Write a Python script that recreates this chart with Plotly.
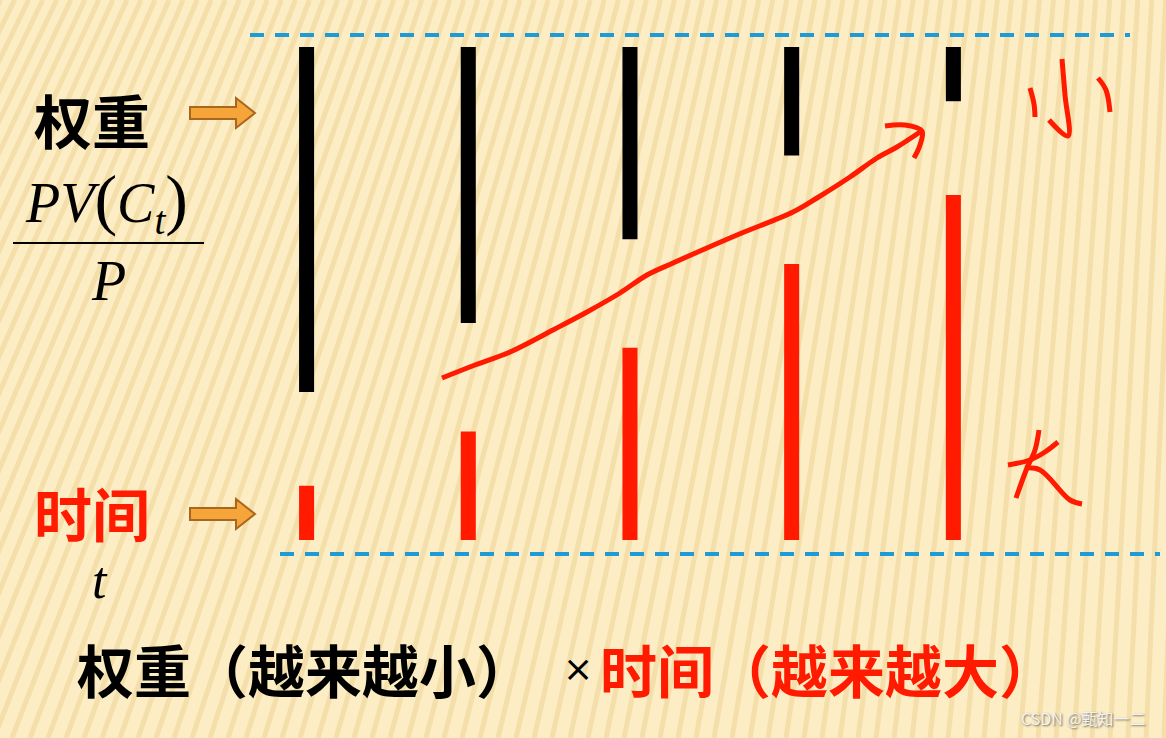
import plotly.graph_objects as go

# values
periods = [1, 2, 3, 4, 5]
weight = [0.70, 0.56, 0.39, 0.22, 0.11]   # PV(Ct)/P, black bars hanging from the top line
time_t = [0.11, 0.22, 0.39, 0.56, 0.70]   # t, red bars standing on the bottom line

# hand drawn red arrow (pixel coords of the slide)
arrow_x = [442, 475, 510, 553, 587, 620, 647, 673, 737, 793, 817, 850, 877, 897, 920]
arrow_y = [378, 365, 352, 330, 312, 293, 275, 263, 235, 212, 198, 177, 158, 147, 132]
head_x = [885, 905, 922, 920, 914]
head_y = [126, 125, 131, 145, 158]

W, H = 1166, 738
RED = '#FF1A00'
BG = '#FCEDC4'

fig = go.Figure()

fig.add_trace(go.Bar(x=periods, y=weight, base=[1 - w for w in weight],
                     width=0.093, marker=dict(color='black', line=dict(width=0)),
                     showlegend=False, hoverinfo='skip'))
fig.add_trace(go.Bar(x=periods, y=time_t, base=[0] * len(time_t),
                     width=0.093, marker=dict(color=RED, line=dict(width=0)),
                     showlegend=False, hoverinfo='skip'))

# handwriting on a pixel overlay
pen = dict(color=RED, width=5, shape='spline')
strokes = [
    (arrow_x, arrow_y),
    (head_x, head_y),
    # 小
    ([1062, 1065, 1068, 1049], [59, 95, 136, 120]),
    ([1030, 1034, 1035], [88, 104, 117]),
    ([1098, 1106, 1110], [78, 90, 112]),
    # 大
    ([1008, 1030, 1045, 1058], [465, 460, 452, 442]),
    ([1039, 1035, 1027, 1016], [430, 450, 468, 498]),
    ([1025, 1040, 1070, 1082], [468, 470, 500, 504]),
]
for sx, sy in strokes:
    fig.add_trace(go.Scatter(x=sx, y=sy, mode='lines', line=pen,
                             xaxis='x2', yaxis='y2', showlegend=False,
                             hoverinfo='skip'))

shapes = []
# diagonal stripes of the slide background
for b in range(-420, 1200, 18):
    s = max(0, 330 * (1 - (b + 200) / 1500))
    shapes.append(dict(type='line', xref='x2', yref='y2', layer='below',
                       x0=b, y0=H, x1=b + s, y1=0,
                       line=dict(color='rgba(232,200,130,0.38)', width=5)))
# dashed guide lines
shapes.append(dict(type='line', xref='x2', yref='y2', x0=250, x1=1130, y0=35, y1=35,
                   line=dict(color='#1E9AD6', width=4, dash='14px,11px')))
shapes.append(dict(type='line', xref='x2', yref='y2', x0=280, x1=1160, y0=554, y1=554,
                   line=dict(color='#1E9AD6', width=4, dash='14px,11px')))
# fraction bar
shapes.append(dict(type='line', xref='x2', yref='y2', x0=13, x1=204, y0=243, y1=243,
                   line=dict(color='black', width=2)))
# orange block arrows
for cy in [113, 514]:
    path = ('M 190 {a} L 236 {a} L 236 {t} L 255 {c} L 236 {b} L 236 {d} L 190 {d} Z'
            .format(a=cy - 6, t=cy - 15, c=cy, b=cy + 15, d=cy + 6))
    shapes.append(dict(type='path', xref='x2', yref='y2', path=path,
                       fillcolor='#F5A53A', line=dict(color='#A8661E', width=2)))

cjk = 'Noto Sans CJK SC'
serif = 'Liberation Serif'
ann = [
    dict(x=92, y=119, text='权重', font=dict(family=cjk, size=58, color='black', weight='bold')),
    dict(x=92, y=512, text='时间', font=dict(family=cjk, size=58, color=RED, weight='bold')),
    dict(x=106, y=201,
         text="<i>PV</i><span style='font-size:68px'>(</span><i>C<sub>t</sub></i>"
              "<span style='font-size:68px'>)</span>",
         font=dict(family=serif, size=56, color='black')),
    dict(x=108, y=281, text='<i>P</i>', font=dict(family=serif, size=56, color='black')),
    dict(x=100, y=580, text='<i>t</i>', font=dict(family=serif, size=52, color='black')),
    dict(x=75, y=668, text='权重（越来越小）', xanchor='left',
         font=dict(family=cjk, size=57, color='black', weight='bold')),
    dict(x=578, y=668, text='×', font=dict(family='DejaVu Sans', size=36, color='black')),
    dict(x=598, y=668, text='时间（越来越大）', xanchor='left',
         font=dict(family=cjk, size=57, color=RED, weight='bold')),
    dict(x=1083, y=718, text='CSDN @甄知一二',
         font=dict(family=cjk, size=16, color='#F2F2F2', shadow='1px 1px 2px rgba(0,0,0,0.55)')),
]
for a in ann:
    a.update(xref='x2', yref='y2', showarrow=False)
    a.setdefault('xanchor', 'center')
    a.setdefault('yanchor', 'middle')

fig.update_layout(
    width=W, height=H,
    margin=dict(l=0, r=0, t=0, b=0),
    paper_bgcolor=BG, plot_bgcolor=BG,
    barmode='overlay',
    xaxis=dict(range=[-0.896, 6.315], visible=False, fixedrange=True),
    yaxis=dict(range=[-0.4016, 1.0953], visible=False, fixedrange=True),
    xaxis2=dict(range=[0, W], overlaying='x', visible=False, fixedrange=True),
    yaxis2=dict(range=[H, 0], overlaying='y', visible=False, fixedrange=True),
    shapes=shapes,
    annotations=ann,
)

# drop the default page margin so the slide fills the window
fig.write_html('out.html', config={'displayModeBar': False},
               post_script="document.body.style.margin='0';document.body.style.overflow='hidden';")
